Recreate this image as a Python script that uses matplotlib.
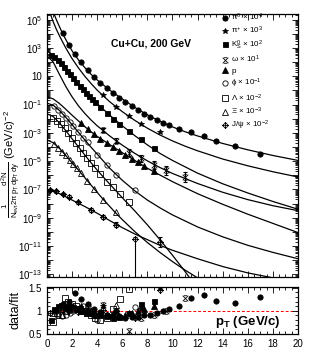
import numpy as np
import matplotlib
matplotlib.use('Agg')
import matplotlib.pyplot as plt
from matplotlib.path import Path
from matplotlib.lines import Line2D
from matplotlib.ticker import FixedLocator, MultipleLocator, NullFormatter, FuncFormatter

plt.rcParams['font.family'] = ['Liberation Sans', 'DejaVu Sans']
plt.rcParams['mathtext.fontset'] = 'custom'
plt.rcParams['mathtext.rm'] = 'Liberation Sans'
plt.rcParams['mathtext.it'] = 'Liberation Sans'
plt.rcParams['mathtext.bf'] = 'Liberation Sans:bold'

# ---- data (log10 of plotted yield, already scaled) ----
pi0_pt = [1.25, 1.75, 2.25, 2.75, 3.25, 3.75, 4.25, 4.75, 5.25, 5.75, 6.25, 6.75,
          7.25, 7.75, 8.25, 8.75, 9.25, 9.75, 10.5, 11.5, 12.5, 13.5, 15.0, 17.0]
pi0_log = [4.08, 3.22, 2.6, 2.0, 1.43, 0.96, 0.55, 0.15, -0.2, -0.52, -0.82, -1.12,
           -1.4, -1.66, -1.9, -2.1, -2.27, -2.42, -2.7, -2.95, -3.25, -3.58, -3.96, -4.48]
pi0_ratio = [1.15, 1.2, 1.38, 1.25, 1.15, 1.05, 0.98, 0.92, 0.9, 0.88, 0.85, 0.86,
             0.87, 0.9, 0.92, 0.95, 1.0, 1.05, 1.1, 1.28, 1.35, 1.22, 1.18, 1.31]

pip_pt = [4.5, 5.5, 6.5, 7.5, 9.0]
pip_log = [-0.35, -1.15, -1.83, -2.37, -2.97]
pip_ratio = [1.1, 1.0, 0.95, 1.05, 1.5]

k0s_pt = [0.35, 0.6, 0.85, 1.1, 1.35, 1.6, 1.85, 2.1, 2.35, 2.6, 2.85, 3.1, 3.35,
          3.6, 3.85, 4.25, 4.75, 5.25, 5.75, 6.5, 7.5, 8.5]
k0s_log = [2.47, 2.38, 2.16, 1.91, 1.65, 1.38, 1.13, 0.86, 0.6, 0.34, 0.09, -0.15, -0.39,
           -0.61, -0.84, -1.18, -1.6, -2.01, -2.37, -2.87, -3.46, -4.06]
k0s_ratio = [0.8, 1.05, 1.1, 1.12, 1.1, 1.08, 1.1, 1.08, 1.05, 1.02, 1.0, 0.98, 0.95,
             0.95, 0.92, 0.9, 0.88, 0.85, 0.87, 0.95, 1.15, 1.22]

omega_pt = [4.5, 5.5, 6.5, 7.5, 8.5, 9.5, 11.0]
omega_log = [-2.82, -3.55, -4.4, -4.79, -5.26, -5.66, -6.13]
omega_err = [0.15, 0.2, 0.25, 0.25, 0.3, 0.3, 0.35]
omega_ratio = [1.13, 1.0, 0.57, 0.85, 0.9, 1.0, 1.28]

p_pt = [2.75, 3.25, 3.75, 4.25, 4.75, 5.25, 5.75, 6.25, 6.75, 7.25, 7.75, 8.5]
p_log = [-2.31, -2.71, -3.09, -3.42, -3.73, -4.02, -4.31, -4.58, -4.83, -5.09, -5.34, -5.7]
p_ratio = [1.1, 1.05, 1.0, 0.95, 0.92, 0.9, 0.88, 0.92, 0.95, 1.0, 1.05, 1.1]

phi_pt = [0.6, 0.9, 1.2, 1.5, 1.8, 2.1, 2.5, 2.9, 3.3, 4.0, 4.75, 5.5, 7.0]
phi_log = [-1.12, -1.39, -1.67, -1.95, -2.23, -2.53, -2.93, -3.33, -3.65, -4.59, -5.29, -5.97, -7.07]
phi_ratio = [1.0, 0.9, 0.88, 0.9, 0.95, 1.0, 1.05, 1.1, 1.1, 0.81, 0.9, 0.95, 1.08]

lam_pt = [0.5, 0.8, 1.1, 1.4, 1.7, 2.0, 2.3, 2.6, 2.9, 3.2, 3.5, 3.8, 4.2, 4.75, 5.25, 5.8, 6.5]
lam_log = [-1.98, -2.14, -2.39, -2.63, -3.0, -3.36, -3.72, -4.07, -4.44, -4.79, -5.15,
           -5.49, -5.92, -6.44, -6.84, -7.29, -7.88]
lam_ratio = [0.75, 0.95, 1.05, 1.28, 1.2, 1.15, 1.1, 1.05, 1.0, 0.95, 0.9, 0.85, 0.81,
             0.85, 1.05, 1.25, 1.48]

xi_pt = [0.6, 0.9, 1.2, 1.5, 1.8, 2.1, 2.4, 2.7, 3.2, 3.75, 4.5, 5.5]
xi_log = [-3.8, -4.07, -4.34, -4.6, -4.89, -5.18, -5.5, -5.83, -6.38, -6.98, -7.74, -8.63]
xi_ratio = [0.95, 0.9, 0.92, 1.0, 1.05, 1.1, 1.05, 1.0, 0.95, 0.92, 0.95, 1.13]

jpsi_pt = [0.25, 0.75, 1.25, 1.75, 2.5, 3.5, 4.5, 5.5, 7.0, 9.0]
jpsi_log = [-7.03, -7.14, -7.3, -7.5, -7.91, -8.45, -8.95, -9.48, -10.5, -10.74]
jpsi_err_lo = [0.08, 0.08, 0.08, 0.1, 0.1, 0.12, 0.15, 0.2, 6.0, 0.35]
jpsi_err_hi = [0.08, 0.08, 0.08, 0.1, 0.1, 0.12, 0.15, 0.2, 0.15, 0.35]
jpsi_ratio = [0.95, 1.0, 1.02, 1.0, 0.97, 1.0, 1.02, 1.0, 0.85, 1.45]

# ---- fit curves (pT nodes, log10 values) ----
fit_pi0_pt = [0.55, 0.75, 1, 1.25, 1.5, 2, 2.5, 3, 3.5, 4, 5, 6, 7, 8, 9, 10, 11, 12, 14, 16, 18, 20]
fit_pi0 = [5.45, 5.0, 4.5, 4.02, 3.6, 2.8, 2.17, 1.63, 1.15, 0.74, 0.02, -0.6, -1.2, -1.73,
           -2.18, -2.58, -2.92, -3.22, -3.75, -4.2, -4.6, -4.95]
fit_pip_pt = [0.25, 0.5, 0.75, 1, 1.5, 2, 2.5, 3, 3.5, 4, 5, 6, 7, 8, 9, 10, 11, 12, 14, 16, 18, 20]
fit_pip = [5.45, 4.85, 4.32, 3.85, 3.0, 2.25, 1.6, 1.02, 0.5, 0.02, -0.8, -1.5, -2.12, -2.67,
           -3.15, -3.57, -3.94, -4.27, -4.85, -5.33, -5.75, -6.12]
fit_pt = [0, 0.5, 1, 1.5, 2, 2.5, 3, 3.5, 4, 5, 6, 7, 8, 9, 10, 12, 14, 16, 18, 20]
fit_k0s = [2.85, 2.45, 1.97, 1.45, 0.93, 0.43, -0.05, -0.5, -0.93, -1.75, -2.5, -3.2, -3.85,
           -4.45, -4.95, -5.85, -6.6, -7.25, -7.85, -8.4]
fit_omega = [2.46, 2.0, 1.12, 0.28, -0.45, -1.08, -1.61, -2.08, -2.5, -3.22, -3.87, -4.45,
             -4.98, -5.45, -5.87, -6.58, -7.2, -7.72, -8.15, -8.5]
fit_p = [-0.45, -0.6, -0.93, -1.33, -1.75, -2.15, -2.55, -2.92, -3.25, -3.83, -4.4, -4.95,
         -5.5, -5.98, -6.45, -7.3, -8.05, -8.75, -9.4, -10.05]
fit_phi = [-0.9, -1.05, -1.42, -1.9, -2.42, -2.95, -3.48, -4.0, -4.5, -5.5, -6.35, -7.1,
           -7.75, -8.3, -8.8, -9.65, -10.35, -10.95, -11.45, -11.9]
fit_lam_pt = [0, 0.5, 1, 1.5, 2, 2.5, 3, 3.5, 4, 4.5, 5, 5.5, 6, 6.5, 7, 8, 9, 10, 11, 12]
fit_lam = [-1.65, -1.85, -2.3, -2.85, -3.42, -3.98, -4.55, -5.1, -5.63, -6.13, -6.62, -7.1,
           -7.58, -8.05, -8.52, -9.5, -10.55, -11.65, -12.8, -14.0]
fit_xi_pt = [0, 0.5, 1, 1.5, 2, 2.5, 3, 3.5, 4, 4.5, 5, 5.5, 6, 7, 8, 9, 10, 11, 12, 13, 14]
fit_xi = [-3.5, -3.7, -4.1, -4.6, -5.12, -5.62, -6.15, -6.68, -7.2, -7.72, -8.2, -8.68,
          -9.13, -9.98, -10.75, -11.45, -12.1, -12.7, -13.25, -13.75, -14.2]
fit_jpsi_pt = [0, 1, 2, 3, 4, 5, 6, 7, 8, 9, 10, 12, 14, 16, 18, 20]
fit_jpsi = [-7.0, -7.3, -7.75, -8.2, -8.68, -9.2, -9.7, -10.15, -10.55, -10.95, -11.3,
            -11.9, -12.45, -12.9, -13.25, -13.55]

# ---- markers ----
omega_mk = Path([(-1, -1), (1, 1), (-1, 1), (1, -1), (-0.6, 1), (0.6, 1), (-0.6, -1), (0.6, -1)],
                [Path.MOVETO, Path.LINETO] * 4)
jpsi_mk = Path([(0, 1), (1, 0), (0, -1), (-1, 0), (0, 1), (0, 1), (0, -1), (-1, 0), (1, 0)],
               [Path.MOVETO, Path.LINETO, Path.LINETO, Path.LINETO, Path.LINETO,
                Path.MOVETO, Path.LINETO, Path.MOVETO, Path.LINETO])

species = [
    (pi0_pt, pi0_log, pi0_ratio, dict(marker='o', ms=3.8, mfc='k'), r'$\pi^0$ $\times$ 10$^4$'),
    (pip_pt, pip_log, pip_ratio, dict(marker='*', ms=3.8, mfc='k'), r'$\pi^{+}$ $\times$ 10$^3$'),
    (k0s_pt, k0s_log, k0s_ratio, dict(marker='s', ms=3.6, mfc='k'), r'$K^0_S$ $\times$ 10$^2$'),
    (omega_pt, omega_log, omega_ratio, dict(marker=omega_mk, ms=4, mfc='none'), r'$\omega$ $\times$ 10$^1$'),
    (p_pt, p_log, p_ratio, dict(marker='^', ms=3.8, mfc='k'), 'p'),
    (phi_pt, phi_log, phi_ratio, dict(marker='o', ms=3.8, mfc='none'), r'$\phi$ $\times$ 10$^{-1}$'),
    (lam_pt, lam_log, lam_ratio, dict(marker='s', ms=3.8, mfc='none'), r'$\Lambda$ $\times$ 10$^{-2}$'),
    (xi_pt, xi_log, xi_ratio, dict(marker='^', ms=4, mfc='none'), r'$\Xi$ $\times$ 10$^{-3}$'),
    (jpsi_pt, jpsi_log, jpsi_ratio, dict(marker=jpsi_mk, ms=4.2, mfc='none'), r'J/$\psi$ $\times$ 10$^{-2}$'),
]

fits = [(fit_pi0_pt, fit_pi0), (fit_pip_pt, fit_pip), (fit_pt, fit_k0s), (fit_pt, fit_omega),
        (fit_pt, fit_p), (fit_pt, fit_phi), (fit_lam_pt, fit_lam), (fit_xi_pt, fit_xi),
        (fit_jpsi_pt, fit_jpsi)]

fig = plt.figure(figsize=(3.15, 3.59), dpi=100)
ax = fig.add_axes([0.149, 0.228, 0.797, 0.733])
ax2 = fig.add_axes([0.149, 0.07, 0.797, 0.131])

for fx, fy in fits:
    ax.plot(fx, 10 ** np.array(fy), color='k', lw=0.9, zorder=2)

handles = []
for pt, lg, rt, st, lab in species:
    kw = dict(ls='none', mec='k', mew=0.6, color='k', zorder=3)
    kw.update(st)
    ax.plot(pt, 10 ** np.array(lg), **kw)
    ax2.plot(pt, rt, **kw)
    handles.append((Line2D([], [], **kw), lab))

# error bars
om = np.array(omega_log)
ax.errorbar(omega_pt, 10 ** om,
            yerr=[10 ** om - 10 ** (om - np.array(omega_err)), 10 ** (om + np.array(omega_err)) - 10 ** om],
            fmt='none', ecolor='k', elinewidth=0.8, capsize=1.5, capthick=0.8, zorder=3)
jl = np.array(jpsi_log)
ax.errorbar(jpsi_pt, 10 ** jl,
            yerr=[10 ** jl - 10 ** (jl - np.array(jpsi_err_lo)), 10 ** (jl + np.array(jpsi_err_hi)) - 10 ** jl],
            fmt='none', ecolor='k', elinewidth=0.8, capsize=1.2, capthick=0.8, zorder=3)

ax.set_yscale('log')
ax.set_xlim(0, 20)
ax.set_ylim(10 ** -13.2, 10 ** 5.4)
ax.yaxis.set_major_locator(FixedLocator([10.0 ** e for e in range(-13, 6)]))
ax.yaxis.set_minor_locator(FixedLocator([m * 10.0 ** e for e in range(-14, 6) for m in range(2, 10)]))


def dec_fmt(v, pos):
    e = int(round(np.log10(v)))
    if e % 2 == 0:
        return ''
    if e == 1:
        return '10'
    return r'10$^{%d}$' % e


ax.yaxis.set_major_formatter(FuncFormatter(dec_fmt))
ax.yaxis.set_minor_formatter(NullFormatter())
for a in (ax, ax2):
    a.xaxis.set_major_locator(MultipleLocator(2))
    a.xaxis.set_minor_locator(MultipleLocator(0.5))
    a.tick_params(which='both', direction='in', top=True, right=True, labelsize=7, width=0.6)
    a.tick_params(which='major', length=4)
    a.tick_params(which='minor', length=2)
    for s in a.spines.values():
        s.set_linewidth(0.9)
ax.tick_params(axis='x', labelbottom=False)

ax.text(5.1, 10 ** 3.33, 'Cu+Cu, 200 GeV', fontsize=7.5, fontweight='bold', va='center')
ax.set_ylabel(r'$\frac{1}{N_{evt}2\pi}\frac{d^2N}{p_T\,dp_T\,dy}$ (GeV/c)$^{-2}$', fontsize=8.0)
ax.yaxis.set_label_coords(-0.1, 0.43)

leg = ax.legend([h for h, _ in handles], [l for _, l in handles], loc='upper left',
                bbox_to_anchor=(0.69, 1.012), frameon=False, fontsize=5.8, handlelength=0.9,
                handletextpad=0.35, labelspacing=0.26, borderpad=0.1, borderaxespad=0.0)

ax2.axhline(1, color='red', ls=(0, (3, 2)), lw=0.7, zorder=1)
ax2.set_xlim(0, 20)
ax2.set_ylim(0.5, 1.52)
ax2.yaxis.set_major_locator(FixedLocator([0.5, 1.0, 1.5]))
ax2.yaxis.set_major_formatter(FuncFormatter(lambda v, p: '%g' % v))
ax2.yaxis.set_minor_locator(MultipleLocator(0.1))
ax2.set_ylabel('data/fit', fontsize=9)
ax2.yaxis.set_label_coords(-0.1, 0.5)
ax2.text(13.4, 0.76, r'$\mathbf{p_T}$ (GeV/c)', fontsize=9.5, fontweight='bold', va='center')

fig.savefig('out.png', dpi=100)
